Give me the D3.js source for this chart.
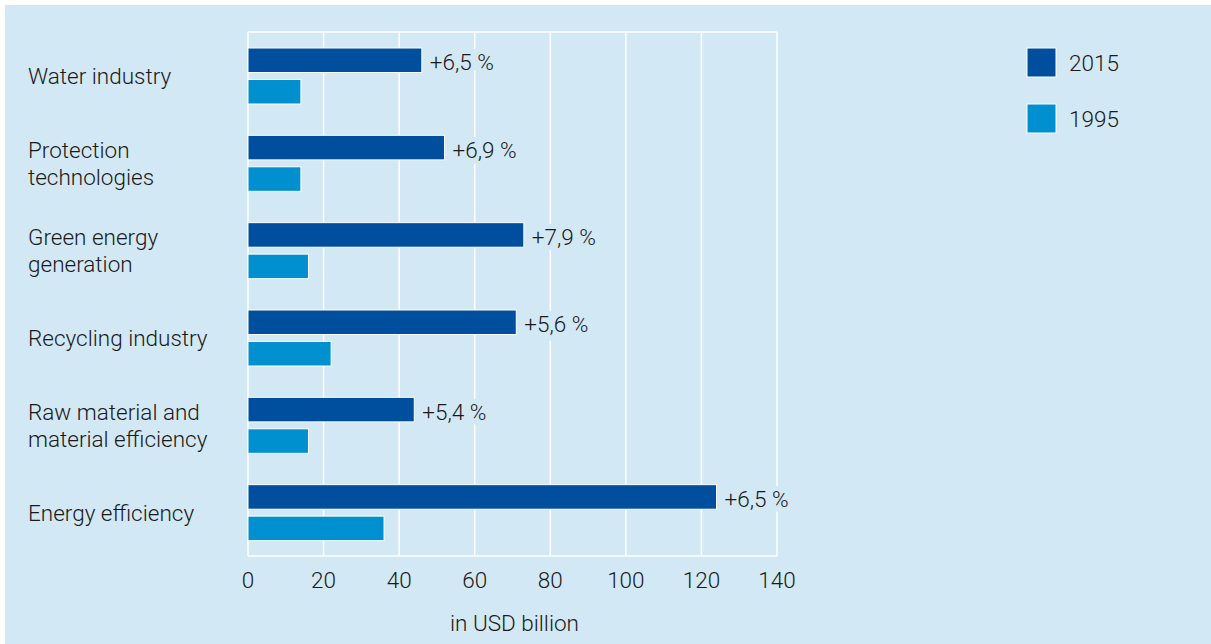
<!DOCTYPE html>
<html>
<head>
<meta charset="utf-8">
<script src="https://cdn.jsdelivr.net/npm/d3@7"></script>
<style>
  body { margin: 0; background: #fff; }
  text { font-family: Roboto, "Liberation Sans", sans-serif; font-weight: 300; fill: #1a1a1a; }
</style>
</head>
<body>
<script>
var width = 1211,
    height = 644;

var categories = [["Water industry"], ["Protection", "technologies"], ["Green energy", "generation"],
                  ["Recycling industry"], ["Raw material and", "material efficiency"], ["Energy efficiency"]];
var years = ["2015", "1995"];
var values2015 = [46, 52, 73, 71, 44, 124];
var values1995 = [14, 14, 16, 22, 16, 36];
var growth = ["+6,5 %", "+6,9 %", "+7,9 %", "+5,6 %", "+5,4 %", "+6,5 %"];
var ticks = [0, 20, 40, 60, 80, 100, 120, 140];

var bg = "#d3e8f5";
var fs = "22.5px";
var color = d3.scaleOrdinal().domain(years).range(["#004f9e", "#0090d0"]);

var svg = d3.select("body").append("svg")
    .attr("width", width)
    .attr("height", height);

svg.append("rect")
    .attr("x", 5).attr("y", 5)
    .attr("width", width - 5).attr("height", height - 5)
    .attr("fill", bg);

var x = d3.scaleLinear().domain([0, 140]).range([248, 777]);
var y0 = d3.scaleBand().domain(d3.range(categories.length)).range([32, 556]);
var y1 = d3.scaleBand().domain(years).range([16, 72]).paddingInner(0.22);

// grid
var grid = svg.append("g");
grid.selectAll("line.v")
    .data(ticks)
    .enter().append("line")
    .attr("x1", function (d) { return x(d); })
    .attr("x2", function (d) { return x(d); })
    .attr("y1", 32).attr("y2", 556)
    .attr("stroke", "#fff").attr("stroke-width", 1.5);
grid.selectAll("line.h")
    .data([32, 556])
    .enter().append("line")
    .attr("x1", x(0)).attr("x2", x(140))
    .attr("y1", function (d) { return d; })
    .attr("y2", function (d) { return d; })
    .attr("stroke", "#fff").attr("stroke-width", 1.5);

// axis labels
svg.append("g").selectAll("text")
    .data(ticks)
    .enter().append("text")
    .attr("x", function (d) { return x(d); })
    .attr("y", 588)
    .attr("text-anchor", "middle")
    .style("font-size", fs)
    .text(function (d) { return d; });

svg.append("text")
    .attr("x", x(70) + 2).attr("y", 631)
    .attr("text-anchor", "middle")
    .style("font-size", fs)
    .text("in USD billion");

var group = svg.selectAll(".group")
    .data(categories)
    .enter().append("g")
    .attr("class", "group")
    .attr("transform", function (d, i) { return "translate(0," + y0(i) + ")"; });

group.each(function (d, i) {
    var g = d3.select(this);
    var vals = [values2015[i], values1995[i]];
    g.selectAll("rect")
        .data(years)
        .enter().append("rect")
        .attr("x", x(0))
        .attr("y", function (yr) { return y1(yr); })
        .attr("width", function (yr, j) { return x(vals[j]) - x(0); })
        .attr("height", y1.bandwidth())
        .attr("fill", function (yr) { return color(yr); })
        .attr("stroke", "#fff")
        .attr("stroke-width", 1);

    g.append("text")
        .attr("x", x(vals[0]) + 8)
        .attr("y", y1("2015") + y1.bandwidth() / 2 + 10)
        .style("font-size", fs)
        .attr("stroke", bg).attr("stroke-width", 10)
        .attr("paint-order", "stroke")
        .text(growth[i]);

    var mid = y0.bandwidth() / 2 + 1;
    var lines = d;
    g.append("text")
        .attr("x", 28)
        .style("font-size", fs)
        .selectAll("tspan")
        .data(lines)
        .enter().append("tspan")
        .attr("x", 28)
        .attr("y", function (t, k) { return mid + 7.5 + (k - (lines.length - 1) / 2) * 27; })
        .text(function (t) { return t; });
});

// legend
var legend = svg.selectAll(".legend")
    .data(years)
    .enter().append("g")
    .attr("class", "legend")
    .attr("transform", function (d, i) { return "translate(1027," + (48 + i * 56) + ")"; });

legend.append("rect")
    .attr("width", 29).attr("height", 29)
    .attr("fill", function (d) { return color(d); })
    .attr("stroke", "#fff").attr("stroke-width", 1);

legend.append("text")
    .attr("x", 42).attr("y", 23)
    .style("font-size", fs)
    .text(function (d) { return d; });
</script>
</body>
</html>
